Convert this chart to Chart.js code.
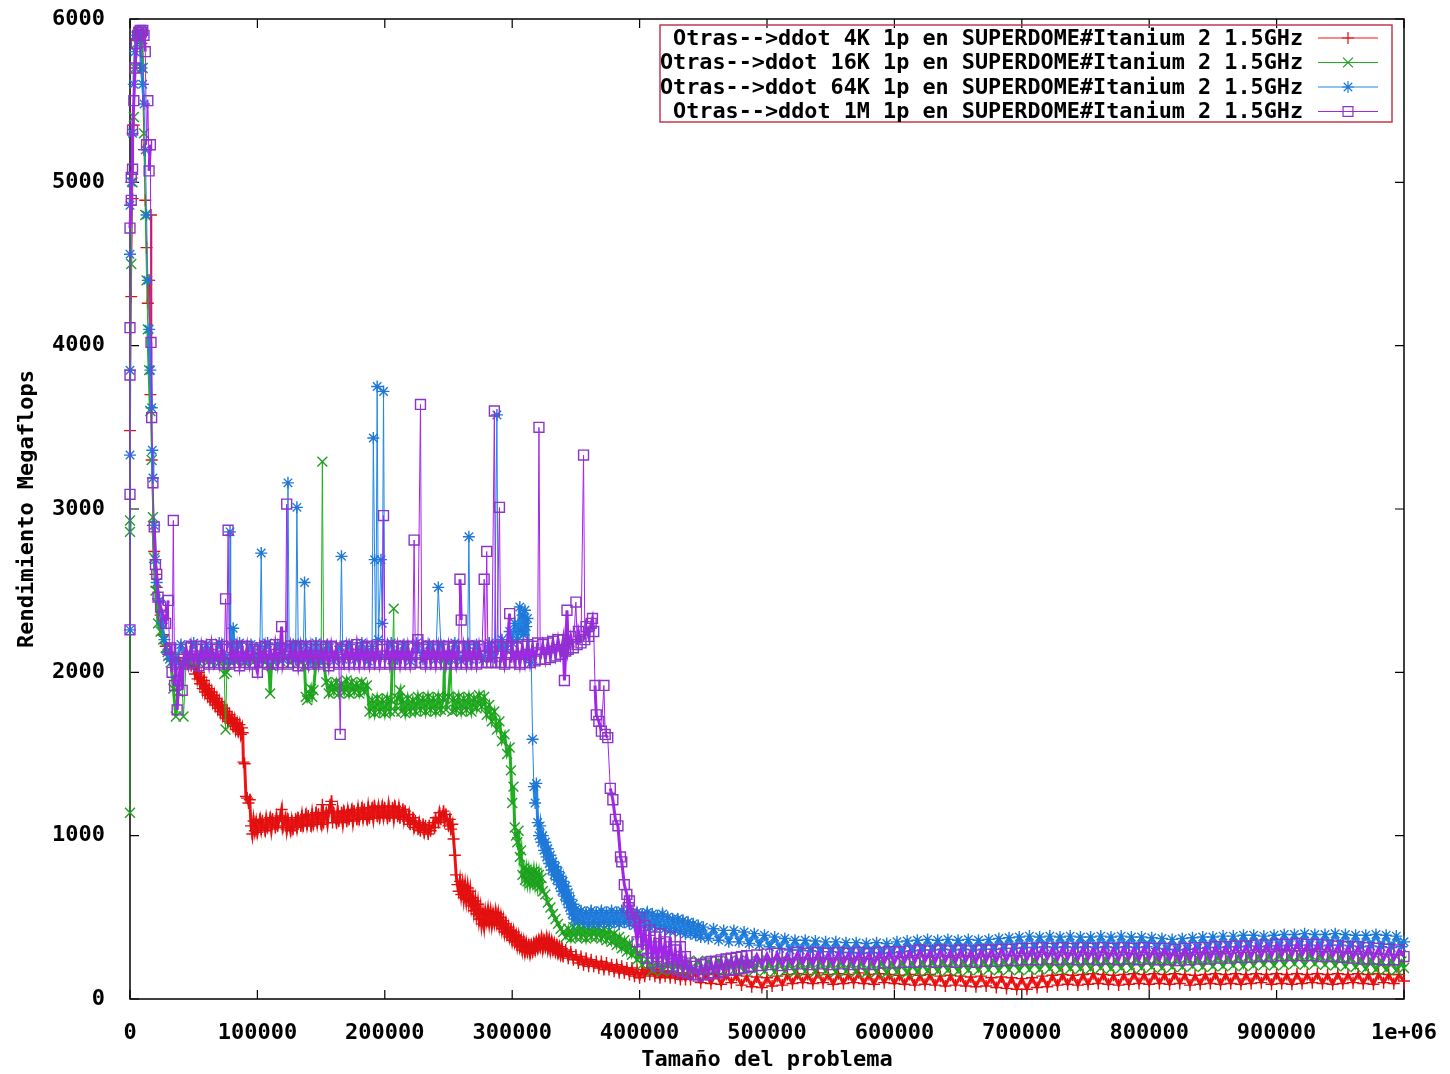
<!DOCTYPE html>
<html>
<head>
<meta charset="utf-8">
<title>ddot SUPERDOME Itanium 2</title>
<script src="https://cdn.jsdelivr.net/npm/chart.js@4.4.1/dist/chart.umd.min.js"></script>
<style>
  html, body { margin: 0; padding: 0; background: #fff; }
</style>
</head>
<body>
<canvas id="chart" width="1450" height="1074"></canvas>
<script>
"use strict";

// problem size in thousands, Megaflops
var ddot4K = [
  [0,3480],[1,4300],[2,4900],[3,5350],[4,5700],[5,5880],[6,5920],[7,5900],[8,5920],[9,5850],[10,5600],[11,5200],[12,4890],[13,4600],[14,4260],[15,4400],[16,3700],[16.5,4800],[17,3300],[18,2900],[19,2740],[20,2600],[21,2520],[22,2450],[24,2350],[26,2230],[28,2160],
  [30,2110],[33,2070],[36,2090],[39,2060],[42,2070],[45,2050],[48,2040],
  [50,2040],[51,1990],[52,2030],[53,1960],[54,2000],[55,1930],[56,1970],[57,1900],[58,1950],[59,1880],[60,1920],[61,1860],[62,1900],[63,1840],[64,1880],[65,1820],[66,1860],[67,1800],[68,1840],[69,1780],[70,1820],[71,1760],[72,1800],[73,1740],[74,1780],[75,1720],[76,1760],[77,1700],[78,1740],[79,1690],[80,1720],[81,1670],[82,1710],[83,1650],[84,1690],[85,1640],[86,1680],[87,1620],[88,1660],[88.5,1630],
  [89,1450],[90,1440],[91,1240],[92,1230],[93,1200],[94,1220],[95,1060],
  [96,1010],[97,1090],[98,1030],[99,1080],[100,1020],[102,1100],[103,1040],[104,1090],[106,1030],[107,1100],[108,1050],[110,1110],[111,1040],[112,1100],[114,1050],[115,1110],[116,1060],[118,1120],[119,1160],[120,1050],[122,1110],[123,1040],[124,1100],[126,1030],[127,1090],[128,1040],[130,1100],[131,1050],[132,1110],[134,1060],[135,1120],[136,1060],[138,1130],[139,1070],[140,1120],[142,1060],[143,1130],[144,1070],[146,1140],[147,1080],[148,1130],[150,1070],[151,1190],[152,1080],[154,1140],[155,1080],[156,1150],[157,1190],[158,1210],[159,1080],[160,1140],[162,1080],[163,1150],[164,1090],[166,1140],[167,1080],[168,1150],[170,1090],[171,1150],[172,1100],[174,1160],[175,1090],[176,1150],[178,1100],[179,1160],[180,1100],[182,1170],[183,1110],[184,1160],[186,1100],[187,1170],[188,1110],[190,1170],[191,1110],[192,1180],[194,1120],[195,1170],[196,1110],[198,1180],[199,1120],[200,1170],[202,1110],[203,1180],[204,1120],[206,1170],[207,1110],[208,1180],[210,1120],[211,1170],[212,1110],[214,1160],[215,1100],[216,1150],[218,1090],[219,1130],[220,1070],[222,1110],[223,1050],[224,1090],[226,1040],[227,1080],[228,1030],[230,1070],[231,1020],[232,1060],[234,1010],[235,1060],[236,1030],[238,1080],[239,1050],[240,1110],[242,1080],[243,1140],[244,1100],[246,1150],[247,1090],[248,1130],[250,1060],[251,1100],[252,1040],[253,1070],[254,980],
  [255,880],[256,760],[257,700],[258,660],[259,720],[260,640],[261,700],[262,620],[263,690],[264,610],[265,680],[266,600],[267,660],[268,570],[269,620],[270,540],[271,600],[272,520],[273,580],[274,490],[275,550],[276,460],[277,520],[278,450],[279,530],[280,480],[281,540],[282,470],[283,530],[284,460],[285,520],[286,470],[287,530],[288,470],[289,520],[290,450],[291,500],[292,430],[293,480],[294,410],[295,460],[296,400],[297,440],[298,380],[299,420],[300,360],[301,410],[302,350],[303,390],[304,330],[305,380],[306,320],[307,360],[308,300],[309,350],[310,290],[311,340],[312,290],[313,330],[314,280],[315,330],[316,290],[317,340],[318,300],[319,350],[320,310],[321,360],[322,320],[323,370],[324,310],[325,360],[326,320],[327,370],[328,310],[329,360],[330,300],[331,350],[332,300],[333,340],[334,290],[335,330],[336,280],[337,320],[338,270],[339,310],[340,260],[342,300],[344,250],[346,290],[348,240],[350,270],[352,220],[354,260],[356,210],[358,250],[360,200],[362,240],[364,200],[366,230],[368,190],[370,230],[372,180],[374,220],[376,180],[378,210],[380,170],[382,210],[384,160],[386,200],[388,160],[390,190],[392,150],[394,190],[396,140],[398,180],[400,130],[402,180],[404,140],[406,190],[408,150],[410,180],[412,140],[414,180],[416,130],[418,170],[420,140],[422,170],[424,130],[426,170],[428,130],[430,160],[432,120],[434,160],[436,120],[438,160],[440,120],
  [444,160],[448,100],[452,150],[456,95],[460,155],[464,90],[468,150],[472,100],[476,145],[480,85],[484,140],[488,75],[492,135],[496,70],[500,130],[504,80],[508,140],[512,85],[516,150],[520,95],[524,155],[528,100],[532,150],[536,95],[540,160],[544,100],[548,150],[552,90],[556,155],[560,95],[564,150],[568,100],[572,160],[576,95],[580,150],[584,90],[588,155],[592,100],[596,150],[600,95],[604,145],[608,90],[612,150],[616,85],[620,145],[624,90],[628,150],[632,85],[636,140],[640,80],[644,145],[648,85],[652,140],[656,80],[660,135],[664,75],[668,140],[672,80],[676,130],[680,70],[684,135],[688,65],[692,130],[696,60],[700,125],[704,60],[708,130],[712,70],[716,140],[720,75],[724,145],[728,85],[732,150],[736,90],[740,145],[744,85],[748,150],[752,90],[756,155],[760,95],[764,150],[768,90],[772,145],[776,85],[780,150],[784,90],[788,155],[792,95],[796,150],[800,90],[804,155],[808,95],[812,150],[816,90],[820,155],[824,95],[828,150],[832,85],[836,145],[840,90],[844,150],[848,95],[852,155],[856,90],[860,150],[864,95],[868,155],[872,90],[876,150],[880,95],[884,155],[888,100],[892,150],[896,90],[900,155],[904,95],[908,150],[912,90],[916,155],[920,95],[924,150],[928,100],[932,155],[936,95],[940,150],[944,90],[948,155],[952,95],[956,150],[960,100],[964,155],[968,95],[972,150],[976,90],[980,155],[984,100],[988,150],[992,95],[996,150],[1000,110]
];

var ddot16K = [
  [0,1140],[0,2860],[0,2930],[1,4500],[2,5000],[3,5400],[4,5700],[5,5850],[6,5900],[7,5920],[8,5900],[9,5880],[10,5700],[11,5300],[12,4800],[13,4400],[14,4100],[15,3850],[16,3600],[17,3300],[18,2950],[19,2700],[20,2500],[22,2300],[24,2250],[26,2200],[28,2150],[30,2100],[32,2060],[34,1900],[36,1730],[38,1880],[40,2050],[42,1730],[44,2060],
  [46,2070],[50,2090],[54,2060],[58,2080],[62,2070],[66,2090],[70,2060],[73,2070],[74,1990],[75,1650],[76,2000],[78,2080],[82,2070],[86,2090],[90,2060],[94,2080],[98,2070],[102,2090],[106,2060],[109,2050],[110,1870],[111,2040],[114,2080],[118,2070],[122,2090],[126,2060],[130,2080],[134,2070],[137,2040],[138,1850],[139,1830],[141,1870],[142,1900],[143,1850],[144,1890],[146,2060],[149,2070],[150,2080],[151,3290],[152,2070],
  [154,1940],[156,1870],[158,1930],[160,1880],[162,1940],[164,1870],[166,1930],[168,1880],[170,1950],[172,1870],[174,1940],[176,1880],[178,1930],[180,1870],[182,1940],[184,1880],[186,1920],[188,1760],[190,1830],[192,1750],[194,1840],[196,1760],[198,1830],[200,1750],[202,1840],[204,1760],[205,1830],[206,2080],[207,2390],[208,1760],[210,1840],[212,1890],[213,1760],[214,1830],[216,1750],[218,1840],[220,1760],[222,1830],[224,1760],[226,1850],[228,1770],[230,1840],[232,1760],[234,1850],[236,1770],[238,1840],[240,1760],[242,1850],[244,1770],[246,1840],[247,2080],[248,1770],[250,1850],[252,2080],[253,1760],[254,1840],[256,1770],[258,1850],[260,1760],[262,1840],[264,1770],[266,1850],[268,1760],[270,1840],[272,1780],[274,1860],[276,1790],[278,1850],[280,1740],[282,1800],[284,1700],[286,1760],[288,1650],[290,1700],[292,1580],[294,1620],[296,1500],[298,1540],
  [299,1400],[300,1200],[301,1300],[302,1050],[303,1000],[304,960],[305,1030],[306,870],[307,910],[308,760],[309,800],[310,730],[311,790],[312,720],[313,780],[314,710],[315,770],[316,720],[317,780],[318,710],[319,770],[320,700],[321,760],[322,690],[323,740],[324,660],[326,640],[328,590],[330,560],[332,520],[334,490],[336,460],[338,430],[340,410],[342,380],[344,430],[346,370],[348,440],[350,380],[352,450],[354,380],[356,450],[358,370],[360,440],[362,380],[364,450],[366,380],[368,440],[370,370],[372,430],[374,360],[376,420],[378,350],[380,400],[382,330],[384,380],[386,310],[388,360],[390,290],[392,340],[394,270],[396,310],[398,240],[400,280],[402,210],
  [406,240],[410,175],[414,235],[418,170],[422,230],[426,175],[430,235],[434,170],[438,230],[442,175],[446,235],[450,170],[454,230],[458,175],[462,235],[466,170],[470,230],[474,175],[478,235],[482,170],[486,230],[490,175],[494,235],[498,170],[502,225],[506,165],[510,230],[514,170],[518,225],[522,165],[526,230],[530,170],[534,225],[538,165],[542,230],[546,170],[550,225],[554,165],[558,230],[562,170],[566,225],[570,165],[574,225],[578,160],[582,220],[586,165],[590,225],[594,160],[598,220],[602,165],[606,225],[610,160],[614,220],[618,165],[622,225],[626,170],[630,230],[634,170],[638,230],[642,175],[646,235],[650,170],[654,230],[658,175],[662,235],[666,175],[670,230],[674,180],[678,235],[682,175],[686,235],[690,180],[694,240],[698,175],[702,235],[706,180],[710,240],[714,180],[718,235],[722,185],[726,240],[730,180],[734,240],[738,185],[742,245],[746,185],[750,240],[754,185],[758,245],[762,190],[766,245],[770,185],[774,240],[778,190],[782,245],[786,190],[790,250],[794,190],[798,245],[802,195],[806,250],[810,190],[814,245],[818,195],[822,250],[826,195],[830,255],[834,200],[838,250],[842,195],[846,255],[850,200],[854,260],[858,200],[862,255],[866,205],[870,260],[874,200],[878,265],[882,205],[886,260],[890,210],[894,265],[898,205],[902,270],[906,210],[910,265],[914,215],[918,270],[922,210],[926,275],[930,215],[934,270],[938,210],[942,265],[946,205],[950,260],[954,200],[958,255],[962,195],[966,245],[970,185],[974,240],[978,180],[982,235],[986,180],[990,235],[994,175],[998,230],[1000,190]
];

var ddot64K = [
  [0,2260],[0,3330],[0,3850],[0,4560],[0,4860],[1,5000],[2,5300],[3,5600],[4,5800],[5,5900],[6,5920],[7,5900],[8,5880],[9,5700],[10,5600],[11,5480],[12,5200],[13,4800],[14,4400],[15,4100],[16,3850],[17,3620],[17.5,3360],[18,3190],[19,2900],[20,2690],[21,2550],[23,2440],[25,2300],[27,2200],[29,2120],[31,2080],[34,2090],
  [36,2060],[40,2170],[45,2070],[50,2180],[55,2080],[60,2170],[65,2070],[70,2180],[75,2090],[78,2070],[78.5,2860],[79,2170],[81,2270],[82,2080],[86,2180],[90,2070],[95,2170],[100,2080],[102,2160],[103,2730],[104,2080],[108,2180],[112,2070],[116,2170],[120,2080],[123,2160],[124,3160],[125,2090],[128,2170],[130,2080],[131,3010],[132,2170],[136,2080],[137,2550],[138,2170],[142,2070],[146,2180],[150,2080],[155,2170],[160,2070],[165,2160],[166,2710],[167,2080],[172,2170],[177,2080],[182,2180],[187,2070],[190,2160],[191,3435],[192,2690],[193,2100],[194,3750],[195,2200],[197,2690],[198,2300],[199,3720],[200,2100],[205,2180],[210,2080],[215,2170],[220,2070],[225,2180],[230,2080],[235,2170],[240,2080],[242,2520],[244,2170],[250,2080],[255,2180],[260,2070],[265,2170],[266,2830],[267,2080],[272,2170],[277,2080],[282,2180],[286,2090],[288,3576],[289,2150],[292,2200],[295,2140],[298,2250],[300,2180],[302,2300],[304,2200],[306,2400],[307,2250],[308,2350],[309,2230],[310,2380],[311,2280],[312,2330],[313,2080],[315,2060],
  [316,1590],[317,1300],[318,1200],[319,1320],[320,1080],[321,1000],[322,1060],[323,960],[324,1000],[325,910],[326,960],[327,870],[328,920],[329,830],[330,880],[331,790],[332,840],[333,760],[334,810],[335,730],[336,780],[337,700],[338,750],[339,660],[340,720],[341,630],[342,690],[343,600],[344,650],[345,560],[346,610],[347,520],[348,580],[349,490],[350,550],[352,480],[354,540],[356,470],[358,530],[360,460],[362,540],[364,470],[366,530],[368,460],[370,540],[372,470],[374,530],[376,460],[378,540],[380,470],[382,530],[384,460],[386,540],[388,470],[390,530],[392,460],[394,520],[396,450],[398,530],[400,460],[402,520],[404,450],[406,530],[408,440],[410,520],[412,450],[414,510],[416,440],[418,520],[420,430],[422,500],[424,420],[426,490],[428,420],[430,490],[432,410],[434,480],[436,400],[438,470],[440,400],[442,460],[444,390],[446,450],[448,380],[450,440],
  [454,370],[458,430],[462,360],[466,420],[470,350],[474,420],[478,350],[482,410],[486,340],[490,400],[494,330],[498,390],[502,320],[506,380],[510,310],[514,370],[518,300],[522,360],[526,300],[530,360],[534,295],[538,355],[542,290],[546,350],[550,290],[554,350],[558,285],[562,345],[566,285],[570,345],[574,280],[578,340],[582,285],[586,345],[590,280],[594,340],[598,285],[602,350],[606,290],[610,355],[614,295],[618,360],[622,300],[626,365],[630,300],[634,360],[638,305],[642,365],[646,300],[650,360],[654,305],[658,365],[662,300],[666,360],[670,305],[674,365],[678,305],[682,370],[686,310],[690,375],[694,310],[698,380],[702,315],[706,385],[710,315],[714,380],[718,320],[722,385],[726,315],[730,380],[734,320],[738,385],[742,315],[746,380],[750,320],[754,380],[758,315],[762,385],[766,320],[770,380],[774,315],[778,385],[782,320],[786,380],[790,315],[794,380],[798,320],[802,375],[806,310],[810,370],[814,305],[818,365],[822,300],[826,370],[830,305],[834,375],[838,310],[842,380],[846,315],[850,380],[854,315],[858,385],[862,320],[866,385],[870,320],[874,390],[878,325],[882,390],[886,320],[890,385],[894,325],[898,390],[902,325],[906,395],[910,330],[914,395],[918,330],[922,400],[926,330],[930,395],[934,325],[938,395],[942,330],[946,400],[950,330],[954,395],[958,325],[962,390],[966,320],[970,390],[974,325],[978,395],[982,320],[986,390],[990,315],[994,385],[998,320],[1000,350]
];

var ddot1M = [
  [0,2260],[0,3090],[0,3820],[0,4110],[0,4720],[1,4890],[1,5030],[2,5080],[2,5320],[3,5500],[4,5700],[5,5850],[6,5900],[7,5920],[8,5930],[9,5920],[10,5930],[11,5900],[12,5800],[13,5230],[14,5500],[15,5070],[16,5230],[16.5,4020],[17,3560],[18,3160],[19,2890],[20,2660],[21,2600],[22,2460],[24,2400],[26,2350],[28,2300],[30,2440],[31,2140],[32,2150],[33,2000],[34,2930],[35,1920],[36,2050],[37,1770],[38,1950],[40,2060],[41,1890],
  [42,2080],[44,2150],[46,2050],[48,2160],[50,2060],[52,2140],[54,2040],[56,2160],[58,2060],[60,2150],[62,2050],[64,2170],[66,2060],[68,2140],[70,2050],[72,2160],[74,2060],[75,2450],[76,2140],[77,2870],[78,2050],[80,2150],[82,2060],[84,2160],[86,2040],[88,2150],[90,2060],[92,2160],[94,2050],[96,2140],[98,2060],[100,2000],[102,2150],[104,2060],[106,2160],[108,2050],[110,2140],[112,2060],[114,2170],[116,2050],[118,2150],[119,2280],[120,2060],[122,2140],[123,3030],[124,2050],[126,2160],[128,2060],[130,2150],[132,2040],[134,2160],[136,2060],[138,2150],[140,2050],[142,2160],[144,2060],[146,2140],[148,2050],[150,2160],[152,2060],[154,2150],[156,2040],[158,2160],[160,2060],[162,2150],[164,2050],[165,1620],[166,2140],[168,2060],[170,2160],[172,2050],[174,2150],[176,2060],[178,2170],[180,2050],[182,2150],[184,2060],[186,2160],[188,2050],[190,2150],[192,2060],[194,2160],[196,2050],[198,2140],[199,2960],[200,2060],[202,2160],[204,2050],[206,2150],[208,2060],[210,2160],[212,2050],[214,2150],[216,2060],[218,2160],[220,2050],[222,2150],[223,2810],[224,2060],[226,2200],[228,3640],[229,2060],[230,2150],[232,2050],[234,2160],[236,2060],[238,2150],[240,2050],[242,2160],[244,2060],[246,2150],[248,2050],[250,2160],[252,2060],[254,2150],[256,2050],[258,2160],[259,2570],[260,2320],[261,2060],[262,2150],[264,2050],[266,2160],[268,2060],[270,2150],[272,2050],[274,2160],[276,2060],[278,2570],[279,2100],[280,2740],[281,2060],[282,2150],[284,2060],[286,3600],[287,2060],[288,2160],[290,3010],[291,2060],[292,2160],[294,2050],[296,2150],[298,2360],[299,2060],[300,2160],[302,2060],[304,2150],[306,2050],[308,2160],[310,2060],[312,2170],[314,2060],[316,2160],[318,2070],[320,2180],[321,3500],[322,2080],[324,2170],[326,2080],[328,2180],[330,2090],[332,2190],[334,2100],[336,2200],[338,2110],[340,2200],[341,1950],[342,2130],[343,2380],[344,2140],[346,2220],[348,2150],[350,2430],[351,2170],[352,2250],[354,2180],[356,3330],[357,2200],[358,2280],[360,2220],[362,2300],[363,2330],[364,2250],
  [365,1920],[366,1740],[368,1700],[370,1640],[372,1920],[373,1620],[375,1600],[377,1290],[379,1220],[381,1100],[383,1060],[385,870],[386,840],[388,700],[390,640],[391,560],[392,600],
  [394,520],[396,480],[398,350],[400,500],[402,300],[404,450],[406,250],[408,420],[410,220],[412,380],[414,200],[416,400],[418,230],[420,350],[422,190],[424,380],[426,200],[428,300],[430,180],[432,320],[434,170],[436,260],[438,160],[440,220],[442,150],[444,200],[446,140],[448,210],[450,150],[452,220],[454,150],[456,230],[458,160],[460,230],[462,160],[464,240],[466,170],[468,245],[470,175],[472,250],[474,180],[476,255],[478,185],[480,260],[482,190],[484,265],[486,195],
  [488,200],[492,270],[496,205],[500,275],[504,210],[508,280],[512,205],[516,275],[520,210],[524,285],[528,215],[532,280],[536,210],[540,285],[544,215],[548,280],[552,210],[556,285],[560,215],[564,280],[568,210],[572,285],[576,215],[580,280],[584,210],[588,285],[592,220],[596,290],[600,220],[604,290],[608,225],[612,295],[616,225],[620,300],[624,230],[628,295],[632,225],[636,300],[640,230],[644,295],[648,225],[652,300],[656,230],[660,295],[664,225],[668,300],[672,230],[676,300],[680,230],[684,305],[688,235],[692,305],[696,235],[700,310],[704,240],[708,310],[712,240],[716,315],[720,245],[724,310],[728,240],[732,315],[736,245],[740,310],[744,240],[748,315],[752,245],[756,310],[760,240],[764,315],[768,245],[772,310],[776,240],[780,315],[784,245],[788,310],[792,240],[796,315],[800,245],[804,310],[808,240],[812,310],[816,240],[820,305],[824,235],[828,310],[832,240],[836,315],[840,245],[844,315],[848,245],[852,320],[856,250],[860,320],[864,250],[868,325],[872,255],[876,325],[880,255],[884,330],[888,260],[892,330],[896,260],[900,335],[904,265],[908,335],[912,265],[916,340],[920,265],[924,335],[928,265],[932,335],[936,260],[940,330],[944,260],[948,325],[952,255],[956,320],[960,250],[964,320],[968,245],[972,315],[976,245],[980,310],[984,240],[988,305],[992,240],[996,300],[1000,260]
];

var seriesLabels = [
  'Otras-->ddot 4K 1p en SUPERDOME#Itanium 2 1.5GHz',
  'Otras-->ddot 16K 1p en SUPERDOME#Itanium 2 1.5GHz',
  'Otras-->ddot 64K 1p en SUPERDOME#Itanium 2 1.5GHz',
  'Otras-->ddot 1M 1p en SUPERDOME#Itanium 2 1.5GHz'
];
var xTickLabels = ['0', '100000', '200000', '300000', '400000', '500000', '600000', '700000', '800000', '900000', '1e+06'];
var yTickLabels = ['0', '1000', '2000', '3000', '4000', '5000', '6000'];

var fontFamily = '"DejaVu Sans Mono", "Liberation Mono", monospace';
var gnuFont = { family: fontFamily, size: 22, weight: 'bold' };

function toPoints(rows) {
  return rows.map(function (r) { return { x: r[0], y: r[1] }; });
}

// dense noisy stretches read as thick bands, lone spikes stay thin
function segmentWidth(c) {
  return Math.abs(c.p1.parsed.y - c.p0.parsed.y) > 250 ? 1 : 3;
}

function makeSet(label, rows, color, markColor, style, radius, order) {
  return {
    label: label,
    data: toPoints(rows),
    borderColor: color,
    backgroundColor: color,
    borderWidth: 1,
    segment: { borderWidth: segmentWidth },
    pointStyle: style,
    pointRadius: radius,
    pointHoverRadius: radius,
    pointBorderColor: markColor,
    pointBackgroundColor: 'rgba(0,0,0,0)',
    pointBorderWidth: 1.4,
    tension: 0,
    clip: false,
    order: order
  };
}

// frame with inward ticks on all four sides, like gnuplot's border
var gnuFrame = {
  id: 'gnuFrame',
  beforeDatasetsDraw: function (chart) {
    var ctx = chart.ctx, a = chart.chartArea;
    var xs = chart.scales.x, ys = chart.scales.y;
    ctx.save();
    ctx.strokeStyle = '#000';
    ctx.lineWidth = 1.5;
    ctx.strokeRect(a.left, a.top, a.right - a.left, a.bottom - a.top);
    ctx.lineWidth = 1.2;
    ctx.beginPath();
    xs.ticks.forEach(function (t) {
      var px = xs.getPixelForValue(t.value);
      ctx.moveTo(px, a.bottom); ctx.lineTo(px, a.bottom - 9);
      ctx.moveTo(px, a.top); ctx.lineTo(px, a.top + 9);
    });
    ys.ticks.forEach(function (t) {
      var py = ys.getPixelForValue(t.value);
      ctx.moveTo(a.left, py); ctx.lineTo(a.left + 9, py);
      ctx.moveTo(a.right, py); ctx.lineTo(a.right - 9, py);
    });
    ctx.stroke();
    ctx.restore();
  }
};

// key in the top right corner: text, then line sample with marker
var gnuKey = {
  id: 'gnuKey',
  afterDraw: function (chart) {
    var ctx = chart.ctx, a = chart.chartArea;
    var right = a.right - 12, top = a.top + 6, w = 732, h = 97;
    ctx.save();
    ctx.strokeStyle = '#c23a4c';
    ctx.lineWidth = 1.5;
    ctx.strokeRect(right - w, top, w, h);
    ctx.font = 'bold 21.8px ' + fontFamily;
    ctx.textAlign = 'right';
    ctx.textBaseline = 'middle';
    chart.data.datasets.forEach(function (ds, i) {
      var y = top + 13 + i * 24.5;
      ctx.fillStyle = '#000';
      ctx.fillText(ds.label, right - 89, y + 1);
      ctx.strokeStyle = ds.borderColor;
      ctx.lineWidth = 1.2;
      ctx.beginPath();
      ctx.moveTo(right - 74, y);
      ctx.lineTo(right - 14, y);
      ctx.stroke();
      ctx.strokeStyle = ds.pointBorderColor;
      ctx.fillStyle = 'rgba(0,0,0,0)';
      Chart.helpers.drawPoint(ctx, { pointStyle: ds.pointStyle, radius: ds.pointRadius, rotation: 0, borderWidth: 1.3 }, right - 44, y);
    });
    ctx.restore();
  }
};

var canvas = document.getElementById('chart');
new Chart(canvas.getContext('2d'), {
  type: 'line',
  data: {
    datasets: [
      makeSet(seriesLabels[0], ddot4K, '#f01414', '#e01010', 'cross', 6, 3),
      makeSet(seriesLabels[1], ddot16K, '#22b022', '#1f9f1f', 'crossRot', 7, 2),
      makeSet(seriesLabels[2], ddot64K, '#2386e6', '#1f78d6', 'star', 6, 1),
      makeSet(seriesLabels[3], ddot1M, '#a424ee', '#8a34c8', 'rect', 7, 0)
    ]
  },
  options: {
    responsive: false,
    animation: false,
    events: [],
    layout: { padding: { top: 19, right: 46, left: 0, bottom: 0 } },
    plugins: {
      legend: { display: false },
      tooltip: { enabled: false }
    },
    scales: {
      x: {
        type: 'linear',
        min: 0,
        max: 1000,
        grid: { display: false },
        border: { display: false },
        ticks: {
          stepSize: 100,
          autoSkip: false,
          maxRotation: 0,
          padding: 13,
          color: '#000',
          font: gnuFont,
          callback: function (v, i) { return xTickLabels[i]; }
        },
        title: {
          display: true,
          text: 'Tamaño del problema',
          color: '#000',
          font: gnuFont,
          padding: { top: 0, bottom: 1 }
        },
        afterFit: function (scale) {
          scale.height = 75;
          scale.paddingLeft = 10;
          scale.paddingRight = 30;
        }
      },
      y: {
        min: 0,
        max: 6000,
        grid: { display: false },
        border: { display: false },
        ticks: {
          stepSize: 1000,
          padding: 17,
          color: '#000',
          font: gnuFont,
          callback: function (v, i) { return yTickLabels[i]; }
        },
        title: {
          display: true,
          text: 'Rendimiento Megaflops',
          color: '#000',
          font: gnuFont,
          padding: { top: 14, bottom: 0 }
        },
        afterFit: function (scale) {
          scale.width = 130;
          scale.paddingTop = 12;
          scale.paddingBottom = 12;
        }
      }
    }
  },
  plugins: [gnuFrame, gnuKey]
});
</script>
</body>
</html>
